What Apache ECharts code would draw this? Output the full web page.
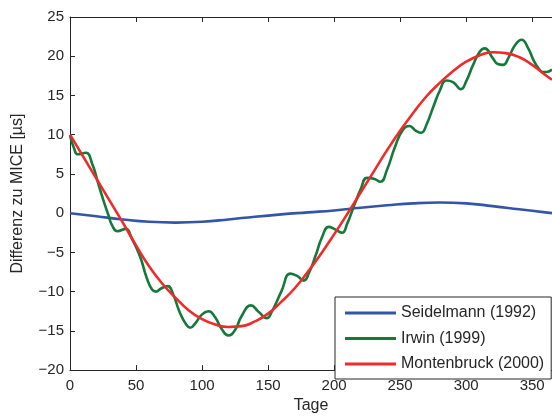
<!DOCTYPE html>
<html>
<head>
<meta charset="utf-8">
<script src="https://cdn.jsdelivr.net/npm/echarts@6/dist/echarts.min.js"></script>
<style>
  html, body { margin: 0; padding: 0; background: #fff; }
  #chart { width: 552px; height: 419px; }
</style>
</head>
<body>
<div id="chart"></div>
<script>
// Seidelmann (1992)
const seidelDays = [0, 20, 40, 60, 80, 100, 120, 140, 160, 180, 200, 220, 240, 260, 280, 300, 320, 340, 360, 365];
const seidelValues = [0.0, -0.4, -0.8, -1.1, -1.2, -1.1, -0.8, -0.45, -0.15, 0.1, 0.35, 0.7, 1.0, 1.25, 1.35, 1.25, 0.9, 0.5, 0.1, 0.0];

// Irwin (1999)
const irwinDays = [0, 3, 6, 12, 17, 21, 25, 29, 32, 36, 42, 47, 53, 58, 62, 65, 69, 74, 78, 83, 88, 91,
  95, 100, 105, 110, 115, 120, 125, 130, 137, 143, 149, 153, 160, 167, 172, 177, 181, 186, 191, 196,
  201, 206, 210, 215, 220, 225, 230, 235, 240, 246, 252, 257, 262, 266, 270, 275, 280, 285, 290, 296,
  300, 305, 310, 314, 320, 324, 328, 332, 337, 342, 347, 351, 355, 358, 361, 365];
const irwinValues = [9.9, 8.3, 7.5, 7.7, 6.2, 4.0, 1.8, -0.2, -1.6, -2.3, -2.0, -3.3, -5.5, -8.2, -9.7, -10.0, -9.6, -9.3, -10.3, -12.6, -14.2, -14.6,
  -14.0, -12.9, -12.5, -13.3, -14.8, -15.6, -14.9, -13.1, -11.75, -12.6, -13.4, -12.5, -10.0, -7.7, -8.0, -8.6, -7.6, -5.4, -3.0, -1.75,
  -2.1, -2.5, -1.3, 0.9, 3.0, 4.5, 4.4, 4.0, 5.5, 8.4, 10.6, 11.1, 10.5, 10.25, 11.3, 13.5, 15.6, 16.9, 16.7, 15.8,
  16.8, 18.8, 20.5, 21.0, 19.8, 19.0, 18.9, 19.8, 21.4, 22.1, 21.0, 19.5, 18.4, 18.0, 18.0, 18.3];

// Montenbruck (2000)
const montDays = [0, 10, 20, 30, 40, 50, 60, 70, 80, 90, 100, 110, 120, 130, 140, 150, 160, 170, 180,
  190, 200, 210, 220, 230, 240, 250, 260, 270, 280, 290, 300, 310, 320, 330, 340, 350, 360, 365];
const montValues = [10.0, 7.2, 4.4, 1.6, -1.2, -4.1, -6.8, -9.0, -10.8, -12.4, -13.5, -14.2, -14.5, -14.4, -13.8, -12.8, -11.3, -9.6, -7.5,
  -5.2, -2.7, -0.1, 2.6, 5.3, 8.0, 10.5, 12.8, 14.9, 16.6, 18.1, 19.3, 20.1, 20.5, 20.4, 19.9, 18.9, 17.6, 17.0];

const seriesNames = ['Seidelmann (1992)', 'Irwin (1999)', 'Montenbruck (2000)'];
const colors = ['#3355a8', '#137a3a', '#f02a2a'];

const zip = (xs, ys) => xs.map((x, i) => [x, ys[i]]);

const font = 'Liberation Sans, Arial, sans-serif';
const textColor = '#262626';
const axisLineStyle = { color: '#262626', width: 1 };

const chart = echarts.init(document.getElementById('chart'));

const option = {
  animation: false,
  grid: { left: 70, top: 17, right: -5, bottom: 42 },
  legend: {
    orient: 'vertical',
    left: 335,
    top: 297,
    padding: [8, 7, 7, 10],
    icon: 'rect',
    itemWidth: 51,
    itemHeight: 3,
    itemGap: 9.5,
    backgroundColor: '#fff',
    borderColor: '#262626',
    borderWidth: 1,
    textStyle: { fontFamily: font, fontSize: 16, color: textColor, lineHeight: 14 },
    data: seriesNames,
  },
  xAxis: [{
    type: 'value',
    min: 0,
    max: 365,
    interval: 50,
    name: 'Tage',
    nameLocation: 'middle',
    nameGap: 26,
    nameTextStyle: { fontFamily: font, fontSize: 16, color: textColor },
    axisLine: { onZero: false, lineStyle: axisLineStyle },
    axisTick: { inside: true, length: 5, lineStyle: axisLineStyle },
    axisLabel: { fontFamily: font, fontSize: 15, color: textColor, margin: 8, showMaxLabel: false },
    splitLine: { show: false },
  }, {
    type: 'value',
    position: 'top',
    min: 0,
    max: 365,
    interval: 50,
    axisLine: { show: true, onZero: false, lineStyle: axisLineStyle },
    axisTick: { inside: true, length: 5, lineStyle: axisLineStyle },
    axisLabel: { show: false },
    splitLine: { show: false },
  }],
  yAxis: [{
    type: 'value',
    min: -20,
    max: 25,
    interval: 5,
    name: 'Differenz zu MICE [µs]',
    nameLocation: 'middle',
    nameGap: 44,
    nameTextStyle: { fontFamily: font, fontSize: 16, color: textColor },
    axisLine: { show: true, onZero: false, lineStyle: axisLineStyle },
    axisTick: { show: true, inside: true, length: 5, lineStyle: axisLineStyle },
    axisLabel: {
      fontFamily: font, fontSize: 15, color: textColor, margin: 6,
      formatter: v => (v < 0 ? '\u2212' + Math.abs(v) : String(v)),
    },
    splitLine: { show: false },
  }],
  series: [
    {
      name: seriesNames[0], type: 'line', symbol: 'none', smooth: true,
      lineStyle: { color: colors[0], width: 2.6 }, itemStyle: { color: colors[0] },
      data: zip(seidelDays, seidelValues),
    },
    {
      name: seriesNames[1], type: 'line', symbol: 'none', smooth: 0.5,
      lineStyle: { color: colors[1], width: 2.6 }, itemStyle: { color: colors[1] },
      data: zip(irwinDays, irwinValues),
    },
    {
      name: seriesNames[2], type: 'line', symbol: 'none', smooth: true,
      lineStyle: { color: colors[2], width: 2.6 }, itemStyle: { color: colors[2] },
      data: zip(montDays, montValues),
    },
  ],
};

chart.setOption(option);
</script>
</body>
</html>
